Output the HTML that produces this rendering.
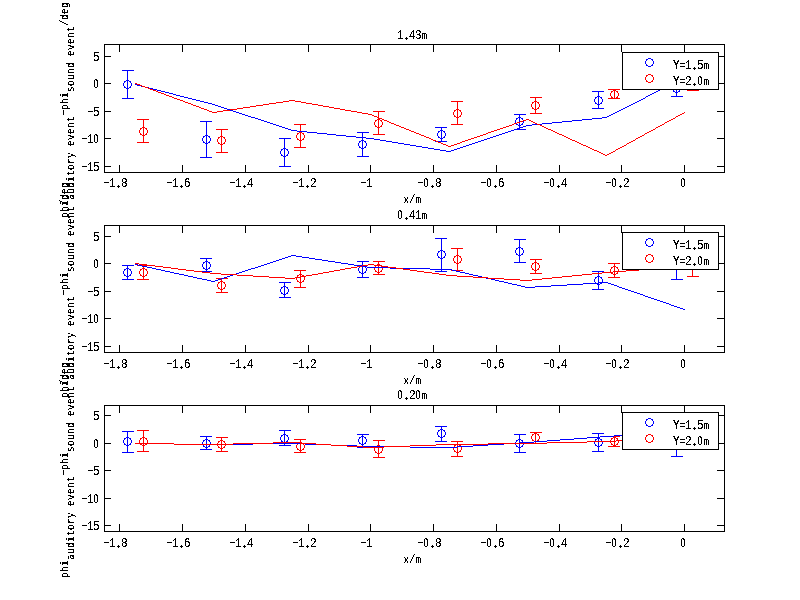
<!DOCTYPE html>
<html><head><meta charset="utf-8"><title>phi auditory event - phi sound event</title>
<style>html,body{margin:0;padding:0;background:#fff;width:800px;height:600px;overflow:hidden}svg{display:block}text{white-space:pre}</style>
</head><body>
<svg width="800" height="600" viewBox="0 0 800 600"><defs><path id="o" d="M-1,-4h3v1h-3zM-3,-3h2v1h-2zM2,-3h2v1h-2zM-3,-2h1v1h-1zM3,-2h1v1h-1zM-4,-1h1v3h-1zM4,-1h1v3h-1zM-3,2h1v1h-1zM3,2h1v1h-1zM-3,3h2v1h-2zM2,3h2v1h-2zM-1,4h3v1h-3z"/><clipPath id="pl"><path d="M-1.5,-0.5h1v-1h1v1h1v1h-1v1h-1v-1h-1z"/></clipPath><filter id="bw" filterUnits="userSpaceOnUse" x="0" y="0" width="800" height="600"><feComponentTransfer><feFuncA type="discrete" tableValues="0 0 1 1 1"/></feComponentTransfer></filter><filter id="bw2" filterUnits="userSpaceOnUse" x="0" y="0" width="800" height="600"><feComponentTransfer><feFuncA type="discrete" tableValues="0 0 1 1 1"/></feComponentTransfer></filter></defs><rect width="800" height="600" fill="#fff"/>
<g shape-rendering="crispEdges">
<rect x="127" y="70" width="1" height="29" fill="#0000ff"/>
<rect x="122" y="70" width="12" height="1" fill="#0000ff"/>
<rect x="122" y="98" width="12" height="1" fill="#0000ff"/>
<use href="#o" x="127" y="84" fill="#0000ff"/>
<rect x="206" y="121" width="1" height="37" fill="#0000ff"/>
<rect x="200" y="121" width="12" height="1" fill="#0000ff"/>
<rect x="200" y="157" width="12" height="1" fill="#0000ff"/>
<use href="#o" x="206" y="139" fill="#0000ff"/>
<rect x="284" y="138" width="1" height="29" fill="#0000ff"/>
<rect x="279" y="138" width="12" height="1" fill="#0000ff"/>
<rect x="279" y="166" width="12" height="1" fill="#0000ff"/>
<use href="#o" x="284" y="152" fill="#0000ff"/>
<rect x="362" y="132" width="1" height="25" fill="#0000ff"/>
<rect x="357" y="132" width="12" height="1" fill="#0000ff"/>
<rect x="357" y="156" width="12" height="1" fill="#0000ff"/>
<use href="#o" x="362" y="144" fill="#0000ff"/>
<rect x="441" y="127" width="1" height="15" fill="#0000ff"/>
<rect x="435" y="127" width="12" height="1" fill="#0000ff"/>
<rect x="435" y="141" width="12" height="1" fill="#0000ff"/>
<use href="#o" x="441" y="134" fill="#0000ff"/>
<rect x="519" y="114" width="1" height="16" fill="#0000ff"/>
<rect x="514" y="114" width="12" height="1" fill="#0000ff"/>
<rect x="514" y="129" width="12" height="1" fill="#0000ff"/>
<use href="#o" x="519" y="121" fill="#0000ff"/>
<rect x="598" y="91" width="1" height="18" fill="#0000ff"/>
<rect x="592" y="91" width="12" height="1" fill="#0000ff"/>
<rect x="592" y="108" width="12" height="1" fill="#0000ff"/>
<use href="#o" x="598" y="100" fill="#0000ff"/>
<rect x="676" y="80" width="1" height="17" fill="#0000ff"/>
<rect x="671" y="80" width="12" height="1" fill="#0000ff"/>
<rect x="671" y="96" width="12" height="1" fill="#0000ff"/>
<use href="#o" x="676" y="88" fill="#0000ff"/>
<rect x="143" y="119" width="1" height="24" fill="#ff0000"/>
<rect x="137" y="119" width="12" height="1" fill="#ff0000"/>
<rect x="137" y="142" width="12" height="1" fill="#ff0000"/>
<use href="#o" x="143" y="131" fill="#ff0000"/>
<rect x="221" y="129" width="1" height="24" fill="#ff0000"/>
<rect x="216" y="129" width="12" height="1" fill="#ff0000"/>
<rect x="216" y="152" width="12" height="1" fill="#ff0000"/>
<use href="#o" x="221" y="140" fill="#ff0000"/>
<rect x="300" y="124" width="1" height="24" fill="#ff0000"/>
<rect x="294" y="124" width="12" height="1" fill="#ff0000"/>
<rect x="294" y="147" width="12" height="1" fill="#ff0000"/>
<use href="#o" x="300" y="136" fill="#ff0000"/>
<rect x="378" y="111" width="1" height="24" fill="#ff0000"/>
<rect x="373" y="111" width="12" height="1" fill="#ff0000"/>
<rect x="373" y="134" width="12" height="1" fill="#ff0000"/>
<use href="#o" x="378" y="123" fill="#ff0000"/>
<rect x="457" y="101" width="1" height="24" fill="#ff0000"/>
<rect x="451" y="101" width="12" height="1" fill="#ff0000"/>
<rect x="451" y="124" width="12" height="1" fill="#ff0000"/>
<use href="#o" x="457" y="113" fill="#ff0000"/>
<rect x="535" y="97" width="1" height="17" fill="#ff0000"/>
<rect x="530" y="97" width="12" height="1" fill="#ff0000"/>
<rect x="530" y="113" width="12" height="1" fill="#ff0000"/>
<use href="#o" x="535" y="105" fill="#ff0000"/>
<rect x="614" y="89" width="1" height="10" fill="#ff0000"/>
<rect x="608" y="89" width="12" height="1" fill="#ff0000"/>
<rect x="608" y="98" width="12" height="1" fill="#ff0000"/>
<use href="#o" x="614" y="94" fill="#ff0000"/>
<rect x="692" y="78" width="1" height="13" fill="#ff0000"/>
<rect x="687" y="78" width="12" height="1" fill="#ff0000"/>
<rect x="687" y="90" width="12" height="1" fill="#ff0000"/>
<use href="#o" x="692" y="84" fill="#ff0000"/>
<path fill="#0000ff" d="M135,84h2v1h-2zM670,84h2v1h-2zM137,85h4v1h-4zM668,85h2v1h-2zM141,86h4v1h-4zM666,86h2v1h-2zM145,87h4v1h-4zM664,87h2v1h-2zM149,88h4v1h-4zM662,88h2v1h-2zM153,89h4v1h-4zM660,89h2v1h-2zM157,90h4v1h-4zM658,90h2v1h-2zM161,91h4v1h-4zM656,91h2v1h-2zM165,92h4v1h-4zM654,92h2v1h-2zM169,93h4v1h-4zM652,93h2v1h-2zM173,94h3v1h-3zM650,94h2v1h-2zM176,95h4v1h-4zM648,95h2v1h-2zM180,96h4v1h-4zM646,96h2v1h-2zM184,97h4v1h-4zM645,97h1v1h-1zM188,98h4v1h-4zM643,98h2v1h-2zM192,99h4v1h-4zM641,99h2v1h-2zM196,100h4v1h-4zM639,100h2v1h-2zM200,101h4v1h-4zM637,101h2v1h-2zM204,102h4v1h-4zM635,102h2v1h-2zM208,103h4v1h-4zM633,103h2v1h-2zM212,104h3v1h-3zM631,104h2v1h-2zM215,105h3v1h-3zM629,105h2v1h-2zM218,106h3v1h-3zM627,106h2v1h-2zM221,107h3v1h-3zM625,107h2v1h-2zM224,108h3v1h-3zM623,108h2v1h-2zM227,109h3v1h-3zM621,109h2v1h-2zM230,110h3v1h-3zM619,110h2v1h-2zM233,111h3v1h-3zM617,111h2v1h-2zM236,112h3v1h-3zM615,112h2v1h-2zM239,113h3v1h-3zM613,113h2v1h-2zM242,114h3v1h-3zM611,114h2v1h-2zM245,115h3v1h-3zM609,115h2v1h-2zM248,116h3v1h-3zM607,116h2v1h-2zM251,117h4v1h-4zM602,117h5v1h-5zM255,118h3v1h-3zM592,118h10v1h-10zM258,119h3v1h-3zM582,119h10v1h-10zM261,120h3v1h-3zM572,120h10v1h-10zM264,121h3v1h-3zM562,121h10v1h-10zM267,122h3v1h-3zM552,122h10v1h-10zM270,123h3v1h-3zM542,123h10v1h-10zM273,124h3v1h-3zM532,124h10v1h-10zM276,125h3v1h-3zM526,125h6v1h-6zM279,126h3v1h-3zM523,126h3v1h-3zM282,127h3v1h-3zM520,127h3v1h-3zM285,128h3v1h-3zM517,128h3v1h-3zM288,129h3v1h-3zM514,129h3v1h-3zM291,130h6v1h-6zM511,130h3v1h-3zM297,131h10v1h-10zM508,131h3v1h-3zM307,132h10v1h-10zM505,132h3v1h-3zM317,133h10v1h-10zM502,133h3v1h-3zM327,134h9v1h-9zM499,134h3v1h-3zM336,135h10v1h-10zM496,135h3v1h-3zM346,136h10v1h-10zM493,136h3v1h-3zM356,137h10v1h-10zM490,137h3v1h-3zM366,138h8v1h-8zM487,138h3v1h-3zM374,139h6v1h-6zM484,139h3v1h-3zM380,140h6v1h-6zM481,140h3v1h-3zM386,141h6v1h-6zM478,141h3v1h-3zM392,142h6v1h-6zM475,142h3v1h-3zM398,143h6v1h-6zM472,143h3v1h-3zM404,144h6v1h-6zM469,144h3v1h-3zM410,145h6v1h-6zM466,145h3v1h-3zM416,146h6v1h-6zM463,146h3v1h-3zM422,147h6v1h-6zM460,147h3v1h-3zM428,148h6v1h-6zM457,148h3v1h-3zM434,149h6v1h-6zM454,149h3v1h-3zM440,150h6v1h-6zM451,150h3v1h-3zM446,151h5v1h-5zM672,83h2v1h-2zM674,82h2v1h-2zM676,81h2v1h-2zM678,80h2v1h-2zM680,79h2v1h-2zM682,78h2v1h-2zM684,77h1v1h-1z"/>
<path fill="#ff0000" d="M135,83h2v1h-2zM137,84h3v1h-3zM140,85h2v1h-2zM142,86h3v1h-3zM145,87h3v1h-3zM148,88h2v1h-2zM150,89h3v1h-3zM153,90h3v1h-3zM156,91h2v1h-2zM158,92h3v1h-3zM161,93h3v1h-3zM164,94h2v1h-2zM166,95h3v1h-3zM169,96h3v1h-3zM172,97h2v1h-2zM174,98h3v1h-3zM177,99h3v1h-3zM180,100h3v1h-3zM289,100h6v1h-6zM183,101h2v1h-2zM283,101h6v1h-6zM295,101h6v1h-6zM185,102h3v1h-3zM276,102h7v1h-7zM301,102h5v1h-5zM188,103h3v1h-3zM269,103h7v1h-7zM306,103h6v1h-6zM191,104h2v1h-2zM263,104h6v1h-6zM312,104h6v1h-6zM193,105h3v1h-3zM256,105h7v1h-7zM318,105h5v1h-5zM196,106h3v1h-3zM250,106h6v1h-6zM323,106h6v1h-6zM199,107h2v1h-2zM243,107h7v1h-7zM329,107h5v1h-5zM201,108h3v1h-3zM237,108h6v1h-6zM334,108h6v1h-6zM204,109h3v1h-3zM230,109h7v1h-7zM340,109h5v1h-5zM207,110h2v1h-2zM223,110h7v1h-7zM345,110h6v1h-6zM209,111h3v1h-3zM217,111h6v1h-6zM351,111h6v1h-6zM212,112h5v1h-5zM357,112h5v1h-5zM684,112h1v1h-1zM362,113h6v1h-6zM682,113h2v1h-2zM368,114h4v1h-4zM680,114h2v1h-2zM372,115h2v1h-2zM678,115h2v1h-2zM374,116h3v1h-3zM676,116h2v1h-2zM377,117h2v1h-2zM675,117h1v1h-1zM379,118h3v1h-3zM673,118h2v1h-2zM382,119h2v1h-2zM526,119h3v1h-3zM671,119h2v1h-2zM384,120h3v1h-3zM523,120h3v1h-3zM529,120h2v1h-2zM669,120h2v1h-2zM387,121h2v1h-2zM520,121h3v1h-3zM531,121h2v1h-2zM667,121h2v1h-2zM389,122h2v1h-2zM517,122h3v1h-3zM533,122h2v1h-2zM665,122h2v1h-2zM391,123h3v1h-3zM514,123h3v1h-3zM535,123h2v1h-2zM664,123h1v1h-1zM394,124h2v1h-2zM512,124h2v1h-2zM537,124h3v1h-3zM662,124h2v1h-2zM396,125h3v1h-3zM509,125h3v1h-3zM540,125h2v1h-2zM660,125h2v1h-2zM399,126h2v1h-2zM506,126h3v1h-3zM542,126h2v1h-2zM658,126h2v1h-2zM401,127h3v1h-3zM503,127h3v1h-3zM544,127h2v1h-2zM656,127h2v1h-2zM404,128h2v1h-2zM500,128h3v1h-3zM546,128h2v1h-2zM655,128h1v1h-1zM406,129h3v1h-3zM497,129h3v1h-3zM548,129h3v1h-3zM653,129h2v1h-2zM409,130h2v1h-2zM494,130h3v1h-3zM551,130h2v1h-2zM651,130h2v1h-2zM411,131h3v1h-3zM491,131h3v1h-3zM553,131h2v1h-2zM649,131h2v1h-2zM414,132h2v1h-2zM488,132h3v1h-3zM555,132h2v1h-2zM647,132h2v1h-2zM416,133h3v1h-3zM486,133h2v1h-2zM557,133h2v1h-2zM645,133h2v1h-2zM419,134h2v1h-2zM483,134h3v1h-3zM559,134h3v1h-3zM644,134h1v1h-1zM421,135h3v1h-3zM480,135h3v1h-3zM562,135h2v1h-2zM642,135h2v1h-2zM424,136h2v1h-2zM477,136h3v1h-3zM564,136h2v1h-2zM640,136h2v1h-2zM426,137h3v1h-3zM474,137h3v1h-3zM566,137h2v1h-2zM638,137h2v1h-2zM429,138h2v1h-2zM471,138h3v1h-3zM568,138h2v1h-2zM636,138h2v1h-2zM431,139h2v1h-2zM468,139h3v1h-3zM570,139h2v1h-2zM635,139h1v1h-1zM433,140h3v1h-3zM465,140h3v1h-3zM572,140h3v1h-3zM633,140h2v1h-2zM436,141h2v1h-2zM462,141h3v1h-3zM575,141h2v1h-2zM631,141h2v1h-2zM438,142h3v1h-3zM460,142h2v1h-2zM577,142h2v1h-2zM629,142h2v1h-2zM441,143h2v1h-2zM457,143h3v1h-3zM579,143h2v1h-2zM627,143h2v1h-2zM443,144h3v1h-3zM454,144h3v1h-3zM581,144h2v1h-2zM626,144h1v1h-1zM446,145h2v1h-2zM451,145h3v1h-3zM583,145h3v1h-3zM624,145h2v1h-2zM448,146h3v1h-3zM586,146h2v1h-2zM622,146h2v1h-2zM588,147h2v1h-2zM620,147h2v1h-2zM590,148h2v1h-2zM618,148h2v1h-2zM592,149h2v1h-2zM616,149h2v1h-2zM594,150h3v1h-3zM615,150h1v1h-1zM597,151h2v1h-2zM613,151h2v1h-2zM599,152h2v1h-2zM611,152h2v1h-2zM601,153h2v1h-2zM609,153h2v1h-2zM603,154h2v1h-2zM607,154h2v1h-2zM605,155h2v1h-2z"/>
<rect x="104.5" y="44.5" width="620" height="128" fill="none" stroke="#000"/>
<rect x="119" y="45" width="1" height="7" fill="#000"/>
<rect x="119" y="165" width="1" height="7" fill="#000"/>
<rect x="182" y="45" width="1" height="7" fill="#000"/>
<rect x="182" y="165" width="1" height="7" fill="#000"/>
<rect x="245" y="45" width="1" height="7" fill="#000"/>
<rect x="245" y="165" width="1" height="7" fill="#000"/>
<rect x="308" y="45" width="1" height="7" fill="#000"/>
<rect x="308" y="165" width="1" height="7" fill="#000"/>
<rect x="370" y="45" width="1" height="7" fill="#000"/>
<rect x="370" y="165" width="1" height="7" fill="#000"/>
<rect x="433" y="45" width="1" height="7" fill="#000"/>
<rect x="433" y="165" width="1" height="7" fill="#000"/>
<rect x="496" y="45" width="1" height="7" fill="#000"/>
<rect x="496" y="165" width="1" height="7" fill="#000"/>
<rect x="559" y="45" width="1" height="7" fill="#000"/>
<rect x="559" y="165" width="1" height="7" fill="#000"/>
<rect x="621" y="45" width="1" height="7" fill="#000"/>
<rect x="621" y="165" width="1" height="7" fill="#000"/>
<rect x="684" y="45" width="1" height="7" fill="#000"/>
<rect x="684" y="165" width="1" height="7" fill="#000"/>
<rect x="105" y="56" width="6" height="1" fill="#000"/>
<rect x="717" y="56" width="7" height="1" fill="#000"/>
<rect x="105" y="83" width="6" height="1" fill="#000"/>
<rect x="717" y="83" width="7" height="1" fill="#000"/>
<rect x="105" y="111" width="6" height="1" fill="#000"/>
<rect x="717" y="111" width="7" height="1" fill="#000"/>
<rect x="105" y="138" width="6" height="1" fill="#000"/>
<rect x="717" y="138" width="7" height="1" fill="#000"/>
<rect x="105" y="166" width="6" height="1" fill="#000"/>
<rect x="717" y="166" width="7" height="1" fill="#000"/>
<rect x="622.5" y="52.5" width="96" height="37" fill="#fff" stroke="#000"/>
<use href="#o" x="649" y="62" fill="#0000ff"/>
<use href="#o" x="649" y="78" fill="#ff0000"/>
<rect x="127" y="265" width="1" height="15" fill="#0000ff"/>
<rect x="122" y="265" width="12" height="1" fill="#0000ff"/>
<rect x="122" y="279" width="12" height="1" fill="#0000ff"/>
<use href="#o" x="127" y="272" fill="#0000ff"/>
<rect x="206" y="258" width="1" height="14" fill="#0000ff"/>
<rect x="200" y="258" width="12" height="1" fill="#0000ff"/>
<rect x="200" y="271" width="12" height="1" fill="#0000ff"/>
<use href="#o" x="206" y="265" fill="#0000ff"/>
<rect x="284" y="282" width="1" height="16" fill="#0000ff"/>
<rect x="279" y="282" width="12" height="1" fill="#0000ff"/>
<rect x="279" y="297" width="12" height="1" fill="#0000ff"/>
<use href="#o" x="284" y="290" fill="#0000ff"/>
<rect x="362" y="261" width="1" height="17" fill="#0000ff"/>
<rect x="357" y="261" width="12" height="1" fill="#0000ff"/>
<rect x="357" y="277" width="12" height="1" fill="#0000ff"/>
<use href="#o" x="362" y="269" fill="#0000ff"/>
<rect x="441" y="238" width="1" height="34" fill="#0000ff"/>
<rect x="435" y="238" width="12" height="1" fill="#0000ff"/>
<rect x="435" y="271" width="12" height="1" fill="#0000ff"/>
<use href="#o" x="441" y="254" fill="#0000ff"/>
<rect x="519" y="239" width="1" height="24" fill="#0000ff"/>
<rect x="514" y="239" width="12" height="1" fill="#0000ff"/>
<rect x="514" y="262" width="12" height="1" fill="#0000ff"/>
<use href="#o" x="519" y="251" fill="#0000ff"/>
<rect x="598" y="271" width="1" height="19" fill="#0000ff"/>
<rect x="592" y="271" width="12" height="1" fill="#0000ff"/>
<rect x="592" y="289" width="12" height="1" fill="#0000ff"/>
<use href="#o" x="598" y="280" fill="#0000ff"/>
<rect x="676" y="251" width="1" height="29" fill="#0000ff"/>
<rect x="671" y="251" width="12" height="1" fill="#0000ff"/>
<rect x="671" y="279" width="12" height="1" fill="#0000ff"/>
<use href="#o" x="676" y="265" fill="#0000ff"/>
<rect x="143" y="265" width="1" height="15" fill="#ff0000"/>
<rect x="137" y="265" width="12" height="1" fill="#ff0000"/>
<rect x="137" y="279" width="12" height="1" fill="#ff0000"/>
<use href="#o" x="143" y="272" fill="#ff0000"/>
<rect x="221" y="278" width="1" height="15" fill="#ff0000"/>
<rect x="216" y="278" width="12" height="1" fill="#ff0000"/>
<rect x="216" y="292" width="12" height="1" fill="#ff0000"/>
<use href="#o" x="221" y="285" fill="#ff0000"/>
<rect x="300" y="270" width="1" height="18" fill="#ff0000"/>
<rect x="294" y="270" width="12" height="1" fill="#ff0000"/>
<rect x="294" y="287" width="12" height="1" fill="#ff0000"/>
<use href="#o" x="300" y="278" fill="#ff0000"/>
<rect x="378" y="261" width="1" height="14" fill="#ff0000"/>
<rect x="373" y="261" width="12" height="1" fill="#ff0000"/>
<rect x="373" y="274" width="12" height="1" fill="#ff0000"/>
<use href="#o" x="378" y="268" fill="#ff0000"/>
<rect x="457" y="248" width="1" height="23" fill="#ff0000"/>
<rect x="451" y="248" width="12" height="1" fill="#ff0000"/>
<rect x="451" y="270" width="12" height="1" fill="#ff0000"/>
<use href="#o" x="457" y="259" fill="#ff0000"/>
<rect x="535" y="259" width="1" height="15" fill="#ff0000"/>
<rect x="530" y="259" width="12" height="1" fill="#ff0000"/>
<rect x="530" y="273" width="12" height="1" fill="#ff0000"/>
<use href="#o" x="535" y="266" fill="#ff0000"/>
<rect x="614" y="263" width="1" height="15" fill="#ff0000"/>
<rect x="608" y="263" width="12" height="1" fill="#ff0000"/>
<rect x="608" y="277" width="12" height="1" fill="#ff0000"/>
<use href="#o" x="614" y="270" fill="#ff0000"/>
<rect x="692" y="254" width="1" height="23" fill="#ff0000"/>
<rect x="687" y="254" width="12" height="1" fill="#ff0000"/>
<rect x="687" y="276" width="12" height="1" fill="#ff0000"/>
<use href="#o" x="692" y="265" fill="#ff0000"/>
<path fill="#0000ff" d="M135,264h3v1h-3zM264,264h3v1h-3zM348,264h6v1h-6zM138,265h4v1h-4zM261,265h3v1h-3zM354,265h7v1h-7zM142,266h5v1h-5zM258,266h3v1h-3zM361,266h6v1h-6zM147,267h5v1h-5zM255,267h3v1h-3zM367,267h23v1h-23zM152,268h4v1h-4zM251,268h4v1h-4zM390,268h40v1h-40zM156,269h5v1h-5zM248,269h3v1h-3zM430,269h22v1h-22zM161,270h4v1h-4zM245,270h3v1h-3zM452,270h4v1h-4zM165,271h5v1h-5zM242,271h3v1h-3zM456,271h4v1h-4zM170,272h4v1h-4zM239,272h3v1h-3zM460,272h5v1h-5zM174,273h5v1h-5zM236,273h3v1h-3zM465,273h4v1h-4zM179,274h5v1h-5zM233,274h3v1h-3zM469,274h4v1h-4zM184,275h4v1h-4zM230,275h3v1h-3zM473,275h5v1h-5zM188,276h5v1h-5zM227,276h3v1h-3zM478,276h4v1h-4zM193,277h4v1h-4zM224,277h3v1h-3zM482,277h4v1h-4zM197,278h5v1h-5zM221,278h3v1h-3zM486,278h5v1h-5zM202,279h5v1h-5zM218,279h3v1h-3zM491,279h4v1h-4zM207,280h4v1h-4zM215,280h3v1h-3zM495,280h4v1h-4zM211,281h4v1h-4zM499,281h5v1h-5zM267,263h3v1h-3zM341,263h7v1h-7zM270,262h3v1h-3zM335,262h6v1h-6zM273,261h3v1h-3zM328,261h7v1h-7zM276,260h3v1h-3zM322,260h6v1h-6zM279,259h3v1h-3zM315,259h7v1h-7zM282,258h3v1h-3zM309,258h6v1h-6zM285,257h3v1h-3zM302,257h7v1h-7zM288,256h3v1h-3zM296,256h6v1h-6zM291,255h5v1h-5zM504,282h4v1h-4zM599,282h9v1h-9zM508,283h4v1h-4zM583,283h16v1h-16zM608,283h3v1h-3zM512,284h5v1h-5zM567,284h16v1h-16zM611,284h3v1h-3zM517,285h4v1h-4zM551,285h16v1h-16zM614,285h3v1h-3zM521,286h4v1h-4zM535,286h16v1h-16zM617,286h2v1h-2zM525,287h10v1h-10zM619,287h3v1h-3zM622,288h3v1h-3zM625,289h3v1h-3zM628,290h3v1h-3zM631,291h3v1h-3zM634,292h3v1h-3zM637,293h3v1h-3zM640,294h3v1h-3zM643,295h2v1h-2zM645,296h3v1h-3zM648,297h3v1h-3zM651,298h3v1h-3zM654,299h3v1h-3zM657,300h3v1h-3zM660,301h3v1h-3zM663,302h3v1h-3zM666,303h3v1h-3zM669,304h2v1h-2zM671,305h3v1h-3zM674,306h3v1h-3zM677,307h3v1h-3zM680,308h3v1h-3zM683,309h2v1h-2z"/>
<path fill="#ff0000" d="M135,263h4v1h-4zM139,264h8v1h-8zM368,264h6v1h-6zM147,265h8v1h-8zM362,265h6v1h-6zM374,265h7v1h-7zM155,266h8v1h-8zM357,266h5v1h-5zM381,266h7v1h-7zM678,266h7v1h-7zM163,267h8v1h-8zM351,267h6v1h-6zM388,267h8v1h-8zM665,267h13v1h-13zM171,268h7v1h-7zM345,268h6v1h-6zM396,268h7v1h-7zM652,268h13v1h-13zM178,269h8v1h-8zM340,269h5v1h-5zM403,269h7v1h-7zM639,269h13v1h-13zM186,270h8v1h-8zM334,270h6v1h-6zM410,270h7v1h-7zM626,270h13v1h-13zM194,271h8v1h-8zM329,271h5v1h-5zM417,271h7v1h-7zM613,271h13v1h-13zM202,272h8v1h-8zM323,272h6v1h-6zM424,272h8v1h-8zM602,272h11v1h-11zM210,273h11v1h-11zM318,273h5v1h-5zM432,273h7v1h-7zM592,273h10v1h-10zM221,274h16v1h-16zM312,274h6v1h-6zM439,274h7v1h-7zM582,274h10v1h-10zM237,275h16v1h-16zM306,275h6v1h-6zM446,275h11v1h-11zM572,275h10v1h-10zM253,276h16v1h-16zM301,276h5v1h-5zM457,276h16v1h-16zM562,276h10v1h-10zM269,277h16v1h-16zM295,277h6v1h-6zM473,277h15v1h-15zM552,277h10v1h-10zM285,278h10v1h-10zM488,278h16v1h-16zM542,278h10v1h-10zM504,279h16v1h-16zM532,279h10v1h-10zM520,280h12v1h-12z"/>
<rect x="104.5" y="225.5" width="620" height="127" fill="none" stroke="#000"/>
<rect x="119" y="226" width="1" height="7" fill="#000"/>
<rect x="119" y="345" width="1" height="7" fill="#000"/>
<rect x="182" y="226" width="1" height="7" fill="#000"/>
<rect x="182" y="345" width="1" height="7" fill="#000"/>
<rect x="245" y="226" width="1" height="7" fill="#000"/>
<rect x="245" y="345" width="1" height="7" fill="#000"/>
<rect x="308" y="226" width="1" height="7" fill="#000"/>
<rect x="308" y="345" width="1" height="7" fill="#000"/>
<rect x="370" y="226" width="1" height="7" fill="#000"/>
<rect x="370" y="345" width="1" height="7" fill="#000"/>
<rect x="433" y="226" width="1" height="7" fill="#000"/>
<rect x="433" y="345" width="1" height="7" fill="#000"/>
<rect x="496" y="226" width="1" height="7" fill="#000"/>
<rect x="496" y="345" width="1" height="7" fill="#000"/>
<rect x="559" y="226" width="1" height="7" fill="#000"/>
<rect x="559" y="345" width="1" height="7" fill="#000"/>
<rect x="621" y="226" width="1" height="7" fill="#000"/>
<rect x="621" y="345" width="1" height="7" fill="#000"/>
<rect x="684" y="226" width="1" height="7" fill="#000"/>
<rect x="684" y="345" width="1" height="7" fill="#000"/>
<rect x="105" y="236" width="6" height="1" fill="#000"/>
<rect x="717" y="236" width="7" height="1" fill="#000"/>
<rect x="105" y="263" width="6" height="1" fill="#000"/>
<rect x="717" y="263" width="7" height="1" fill="#000"/>
<rect x="105" y="291" width="6" height="1" fill="#000"/>
<rect x="717" y="291" width="7" height="1" fill="#000"/>
<rect x="105" y="318" width="6" height="1" fill="#000"/>
<rect x="717" y="318" width="7" height="1" fill="#000"/>
<rect x="105" y="346" width="6" height="1" fill="#000"/>
<rect x="717" y="346" width="7" height="1" fill="#000"/>
<rect x="622.5" y="232.5" width="96" height="37" fill="#fff" stroke="#000"/>
<use href="#o" x="649" y="242" fill="#0000ff"/>
<use href="#o" x="649" y="258" fill="#ff0000"/>
<rect x="127" y="431" width="1" height="22" fill="#0000ff"/>
<rect x="122" y="431" width="12" height="1" fill="#0000ff"/>
<rect x="122" y="452" width="12" height="1" fill="#0000ff"/>
<use href="#o" x="127" y="441" fill="#0000ff"/>
<rect x="206" y="436" width="1" height="14" fill="#0000ff"/>
<rect x="200" y="436" width="12" height="1" fill="#0000ff"/>
<rect x="200" y="449" width="12" height="1" fill="#0000ff"/>
<use href="#o" x="206" y="443" fill="#0000ff"/>
<rect x="284" y="430" width="1" height="16" fill="#0000ff"/>
<rect x="279" y="430" width="12" height="1" fill="#0000ff"/>
<rect x="279" y="445" width="12" height="1" fill="#0000ff"/>
<use href="#o" x="284" y="438" fill="#0000ff"/>
<rect x="362" y="434" width="1" height="14" fill="#0000ff"/>
<rect x="357" y="434" width="12" height="1" fill="#0000ff"/>
<rect x="357" y="447" width="12" height="1" fill="#0000ff"/>
<use href="#o" x="362" y="440" fill="#0000ff"/>
<rect x="441" y="426" width="1" height="16" fill="#0000ff"/>
<rect x="435" y="426" width="12" height="1" fill="#0000ff"/>
<rect x="435" y="441" width="12" height="1" fill="#0000ff"/>
<use href="#o" x="441" y="433" fill="#0000ff"/>
<rect x="519" y="434" width="1" height="19" fill="#0000ff"/>
<rect x="514" y="434" width="12" height="1" fill="#0000ff"/>
<rect x="514" y="452" width="12" height="1" fill="#0000ff"/>
<use href="#o" x="519" y="443" fill="#0000ff"/>
<rect x="598" y="433" width="1" height="19" fill="#0000ff"/>
<rect x="592" y="433" width="12" height="1" fill="#0000ff"/>
<rect x="592" y="451" width="12" height="1" fill="#0000ff"/>
<use href="#o" x="598" y="442" fill="#0000ff"/>
<rect x="676" y="432" width="1" height="25" fill="#0000ff"/>
<rect x="671" y="432" width="12" height="1" fill="#0000ff"/>
<rect x="671" y="456" width="12" height="1" fill="#0000ff"/>
<use href="#o" x="676" y="444" fill="#0000ff"/>
<rect x="143" y="430" width="1" height="22" fill="#ff0000"/>
<rect x="137" y="430" width="12" height="1" fill="#ff0000"/>
<rect x="137" y="451" width="12" height="1" fill="#ff0000"/>
<use href="#o" x="143" y="441" fill="#ff0000"/>
<rect x="221" y="437" width="1" height="15" fill="#ff0000"/>
<rect x="216" y="437" width="12" height="1" fill="#ff0000"/>
<rect x="216" y="451" width="12" height="1" fill="#ff0000"/>
<use href="#o" x="221" y="444" fill="#ff0000"/>
<rect x="300" y="439" width="1" height="14" fill="#ff0000"/>
<rect x="294" y="439" width="12" height="1" fill="#ff0000"/>
<rect x="294" y="452" width="12" height="1" fill="#ff0000"/>
<use href="#o" x="300" y="446" fill="#ff0000"/>
<rect x="378" y="440" width="1" height="18" fill="#ff0000"/>
<rect x="373" y="440" width="12" height="1" fill="#ff0000"/>
<rect x="373" y="457" width="12" height="1" fill="#ff0000"/>
<use href="#o" x="378" y="449" fill="#ff0000"/>
<rect x="457" y="441" width="1" height="16" fill="#ff0000"/>
<rect x="451" y="441" width="12" height="1" fill="#ff0000"/>
<rect x="451" y="456" width="12" height="1" fill="#ff0000"/>
<use href="#o" x="457" y="448" fill="#ff0000"/>
<rect x="535" y="432" width="1" height="12" fill="#ff0000"/>
<rect x="530" y="432" width="12" height="1" fill="#ff0000"/>
<rect x="530" y="443" width="12" height="1" fill="#ff0000"/>
<use href="#o" x="535" y="437" fill="#ff0000"/>
<rect x="614" y="436" width="1" height="11" fill="#ff0000"/>
<rect x="608" y="436" width="12" height="1" fill="#ff0000"/>
<rect x="608" y="446" width="12" height="1" fill="#ff0000"/>
<use href="#o" x="614" y="441" fill="#ff0000"/>
<rect x="692" y="430" width="1" height="19" fill="#ff0000"/>
<rect x="687" y="430" width="12" height="1" fill="#ff0000"/>
<rect x="687" y="448" width="12" height="1" fill="#ff0000"/>
<use href="#o" x="692" y="439" fill="#ff0000"/>
<path fill="#0000ff" d="M135,443h39v1h-39zM253,443h52v1h-52zM504,443h16v1h-16zM174,444h79v1h-79zM305,444h26v1h-26zM488,444h16v1h-16zM331,445h26v1h-26zM473,445h15v1h-15zM357,446h53v1h-53zM457,446h16v1h-16zM410,447h47v1h-47zM520,442h14v1h-14zM534,441h13v1h-13zM547,440h13v1h-13zM560,439h14v1h-14zM574,438h13v1h-13zM587,437h13v1h-13zM600,436h14v1h-14zM614,435h16v1h-16zM630,434h15v1h-15zM645,433h16v1h-16zM661,432h16v1h-16zM677,431h8v1h-8z"/>
<path fill="#ff0000" d="M135,443h39v1h-39zM233,443h40v1h-40zM300,443h16v1h-16zM488,443h59v1h-59zM174,444h59v1h-59zM316,444h15v1h-15zM436,444h52v1h-52zM273,442h27v1h-27zM547,442h40v1h-40zM331,445h16v1h-16zM410,445h26v1h-26zM347,446h16v1h-16zM384,446h26v1h-26zM363,447h21v1h-21zM587,441h29v1h-29zM616,440h20v1h-20zM636,439h19v1h-19zM655,438h20v1h-20zM675,437h10v1h-10z"/>
<rect x="104.5" y="405.5" width="620" height="126" fill="none" stroke="#000"/>
<rect x="119" y="406" width="1" height="7" fill="#000"/>
<rect x="119" y="524" width="1" height="7" fill="#000"/>
<rect x="182" y="406" width="1" height="7" fill="#000"/>
<rect x="182" y="524" width="1" height="7" fill="#000"/>
<rect x="245" y="406" width="1" height="7" fill="#000"/>
<rect x="245" y="524" width="1" height="7" fill="#000"/>
<rect x="308" y="406" width="1" height="7" fill="#000"/>
<rect x="308" y="524" width="1" height="7" fill="#000"/>
<rect x="370" y="406" width="1" height="7" fill="#000"/>
<rect x="370" y="524" width="1" height="7" fill="#000"/>
<rect x="433" y="406" width="1" height="7" fill="#000"/>
<rect x="433" y="524" width="1" height="7" fill="#000"/>
<rect x="496" y="406" width="1" height="7" fill="#000"/>
<rect x="496" y="524" width="1" height="7" fill="#000"/>
<rect x="559" y="406" width="1" height="7" fill="#000"/>
<rect x="559" y="524" width="1" height="7" fill="#000"/>
<rect x="621" y="406" width="1" height="7" fill="#000"/>
<rect x="621" y="524" width="1" height="7" fill="#000"/>
<rect x="684" y="406" width="1" height="7" fill="#000"/>
<rect x="684" y="524" width="1" height="7" fill="#000"/>
<rect x="105" y="415" width="6" height="1" fill="#000"/>
<rect x="717" y="415" width="7" height="1" fill="#000"/>
<rect x="105" y="443" width="6" height="1" fill="#000"/>
<rect x="717" y="443" width="7" height="1" fill="#000"/>
<rect x="105" y="470" width="6" height="1" fill="#000"/>
<rect x="717" y="470" width="7" height="1" fill="#000"/>
<rect x="105" y="498" width="6" height="1" fill="#000"/>
<rect x="717" y="498" width="7" height="1" fill="#000"/>
<rect x="105" y="525" width="6" height="1" fill="#000"/>
<rect x="717" y="525" width="7" height="1" fill="#000"/>
<rect x="622.5" y="412.5" width="96" height="37" fill="#fff" stroke="#000"/>
<use href="#o" x="649" y="422" fill="#0000ff"/>
<use href="#o" x="649" y="438" fill="#ff0000"/>
</g>
<g filter="url(#bw)" font-family="'Liberation Mono', 'DejaVu Sans Mono', monospace" font-size="13.5" fill="#000">
<g transform="translate(694.5,68.5)"><text x="-5.992" y="1.460" font-size="20" clip-path="url(#pl)">.</text></g><text transform="scale(0.82,1)" y="69"><tspan x="820.61">Y</tspan><tspan x="827.93">=</tspan><tspan x="835.24">1</tspan><tspan x="849.88">5</tspan><tspan x="857.80" font-size="11.4">m</tspan></text>
<g transform="translate(694.5,84.5)"><text x="-5.992" y="1.460" font-size="20" clip-path="url(#pl)">.</text></g><text transform="scale(0.82,1)" y="85"><tspan x="820.61">Y</tspan><tspan x="827.93">=</tspan><tspan x="835.24">2</tspan><tspan x="849.88" font-family="DejaVu Sans Condensed" font-size="12.3">0</tspan><tspan x="857.80" font-size="11.4">m</tspan></text>
<text x="101.10" y="188" font-size="18">-</text><g transform="translate(118.5,186.5)"><text x="-5.992" y="1.460" font-size="20" clip-path="url(#pl)">.</text></g><text transform="scale(0.82,1)" y="187"><tspan x="132.80">1</tspan><tspan x="147.44">8</tspan></text>
<text x="164.10" y="188" font-size="18">-</text><g transform="translate(181.5,186.5)"><text x="-5.992" y="1.460" font-size="20" clip-path="url(#pl)">.</text></g><text transform="scale(0.82,1)" y="187"><tspan x="209.63">1</tspan><tspan x="224.27">6</tspan></text>
<text x="227.10" y="188" font-size="18">-</text><g transform="translate(244.5,186.5)"><text x="-5.992" y="1.460" font-size="20" clip-path="url(#pl)">.</text></g><text transform="scale(0.82,1)" y="187"><tspan x="286.46">1</tspan><tspan x="301.10">4</tspan></text>
<text x="290.10" y="188" font-size="18">-</text><g transform="translate(307.5,186.5)"><text x="-5.992" y="1.460" font-size="20" clip-path="url(#pl)">.</text></g><text transform="scale(0.82,1)" y="187"><tspan x="363.29">1</tspan><tspan x="377.93">2</tspan></text>
<text x="358.10" y="188" font-size="18">-</text><text transform="scale(0.82,1)" y="187"><tspan x="446.22">1</tspan></text>
<text x="415.10" y="188" font-size="18">-</text><g transform="translate(432.5,186.5)"><text x="-5.992" y="1.460" font-size="20" clip-path="url(#pl)">.</text></g><text transform="scale(0.82,1)" y="187"><tspan x="515.73" font-family="DejaVu Sans Condensed" font-size="12.3">0</tspan><tspan x="530.37">8</tspan></text>
<text x="478.10" y="188" font-size="18">-</text><g transform="translate(495.5,186.5)"><text x="-5.992" y="1.460" font-size="20" clip-path="url(#pl)">.</text></g><text transform="scale(0.82,1)" y="187"><tspan x="592.56" font-family="DejaVu Sans Condensed" font-size="12.3">0</tspan><tspan x="607.20">6</tspan></text>
<text x="541.10" y="188" font-size="18">-</text><g transform="translate(558.5,186.5)"><text x="-5.992" y="1.460" font-size="20" clip-path="url(#pl)">.</text></g><text transform="scale(0.82,1)" y="187"><tspan x="669.39" font-family="DejaVu Sans Condensed" font-size="12.3">0</tspan><tspan x="684.02">4</tspan></text>
<text x="603.10" y="188" font-size="18">-</text><g transform="translate(620.5,186.5)"><text x="-5.992" y="1.460" font-size="20" clip-path="url(#pl)">.</text></g><text transform="scale(0.82,1)" y="187"><tspan x="745.00" font-family="DejaVu Sans Condensed" font-size="12.3">0</tspan><tspan x="759.63">2</tspan></text>
<text transform="scale(0.82,1)" y="187"><tspan x="829.15" font-family="DejaVu Sans Condensed" font-size="12.3">0</tspan></text>
<text transform="scale(0.82,1)" y="61"><tspan x="113.29">5</tspan></text>
<text transform="scale(0.82,1)" y="88"><tspan x="113.29" font-family="DejaVu Sans Condensed" font-size="12.3">0</tspan></text>
<text x="85.10" y="117" font-size="18">-</text><text transform="scale(0.82,1)" y="116"><tspan x="113.29">5</tspan></text>
<text x="79.10" y="144" font-size="18">-</text><text transform="scale(0.82,1)" y="143"><tspan x="105.98">1</tspan><tspan x="113.29" font-family="DejaVu Sans Condensed" font-size="12.3">0</tspan></text>
<text x="79.10" y="172" font-size="18">-</text><text transform="scale(0.82,1)" y="171"><tspan x="105.98">1</tspan><tspan x="113.29">5</tspan></text>
<g transform="translate(406.5,38.5)"><text x="-5.992" y="1.460" font-size="20" clip-path="url(#pl)">.</text></g><text transform="scale(0.82,1)" y="39"><tspan x="484.02">1</tspan><tspan x="498.66">4</tspan><tspan x="505.98">3</tspan><tspan x="513.90" font-size="11.4">m</tspan></text>
<text transform="scale(0.82,1)" y="203"><tspan x="491.95" font-size="11.4">x</tspan><tspan x="498.66">/</tspan><tspan x="506.59" font-size="11.4">m</tspan></text>
<g transform="translate(694.5,248.5)"><text x="-5.992" y="1.460" font-size="20" clip-path="url(#pl)">.</text></g><text transform="scale(0.82,1)" y="249"><tspan x="820.61">Y</tspan><tspan x="827.93">=</tspan><tspan x="835.24">1</tspan><tspan x="849.88">5</tspan><tspan x="857.80" font-size="11.4">m</tspan></text>
<g transform="translate(694.5,264.5)"><text x="-5.992" y="1.460" font-size="20" clip-path="url(#pl)">.</text></g><text transform="scale(0.82,1)" y="265"><tspan x="820.61">Y</tspan><tspan x="827.93">=</tspan><tspan x="835.24">2</tspan><tspan x="849.88" font-family="DejaVu Sans Condensed" font-size="12.3">0</tspan><tspan x="857.80" font-size="11.4">m</tspan></text>
<text x="101.10" y="369" font-size="18">-</text><g transform="translate(118.5,367.5)"><text x="-5.992" y="1.460" font-size="20" clip-path="url(#pl)">.</text></g><text transform="scale(0.82,1)" y="368"><tspan x="132.80">1</tspan><tspan x="147.44">8</tspan></text>
<text x="164.10" y="369" font-size="18">-</text><g transform="translate(181.5,367.5)"><text x="-5.992" y="1.460" font-size="20" clip-path="url(#pl)">.</text></g><text transform="scale(0.82,1)" y="368"><tspan x="209.63">1</tspan><tspan x="224.27">6</tspan></text>
<text x="227.10" y="369" font-size="18">-</text><g transform="translate(244.5,367.5)"><text x="-5.992" y="1.460" font-size="20" clip-path="url(#pl)">.</text></g><text transform="scale(0.82,1)" y="368"><tspan x="286.46">1</tspan><tspan x="301.10">4</tspan></text>
<text x="290.10" y="369" font-size="18">-</text><g transform="translate(307.5,367.5)"><text x="-5.992" y="1.460" font-size="20" clip-path="url(#pl)">.</text></g><text transform="scale(0.82,1)" y="368"><tspan x="363.29">1</tspan><tspan x="377.93">2</tspan></text>
<text x="358.10" y="369" font-size="18">-</text><text transform="scale(0.82,1)" y="368"><tspan x="446.22">1</tspan></text>
<text x="415.10" y="369" font-size="18">-</text><g transform="translate(432.5,367.5)"><text x="-5.992" y="1.460" font-size="20" clip-path="url(#pl)">.</text></g><text transform="scale(0.82,1)" y="368"><tspan x="515.73" font-family="DejaVu Sans Condensed" font-size="12.3">0</tspan><tspan x="530.37">8</tspan></text>
<text x="478.10" y="369" font-size="18">-</text><g transform="translate(495.5,367.5)"><text x="-5.992" y="1.460" font-size="20" clip-path="url(#pl)">.</text></g><text transform="scale(0.82,1)" y="368"><tspan x="592.56" font-family="DejaVu Sans Condensed" font-size="12.3">0</tspan><tspan x="607.20">6</tspan></text>
<text x="541.10" y="369" font-size="18">-</text><g transform="translate(558.5,367.5)"><text x="-5.992" y="1.460" font-size="20" clip-path="url(#pl)">.</text></g><text transform="scale(0.82,1)" y="368"><tspan x="669.39" font-family="DejaVu Sans Condensed" font-size="12.3">0</tspan><tspan x="684.02">4</tspan></text>
<text x="603.10" y="369" font-size="18">-</text><g transform="translate(620.5,367.5)"><text x="-5.992" y="1.460" font-size="20" clip-path="url(#pl)">.</text></g><text transform="scale(0.82,1)" y="368"><tspan x="745.00" font-family="DejaVu Sans Condensed" font-size="12.3">0</tspan><tspan x="759.63">2</tspan></text>
<text transform="scale(0.82,1)" y="368"><tspan x="829.15" font-family="DejaVu Sans Condensed" font-size="12.3">0</tspan></text>
<text transform="scale(0.82,1)" y="241"><tspan x="113.29">5</tspan></text>
<text transform="scale(0.82,1)" y="268"><tspan x="113.29" font-family="DejaVu Sans Condensed" font-size="12.3">0</tspan></text>
<text x="85.10" y="297" font-size="18">-</text><text transform="scale(0.82,1)" y="296"><tspan x="113.29">5</tspan></text>
<text x="79.10" y="324" font-size="18">-</text><text transform="scale(0.82,1)" y="323"><tspan x="105.98">1</tspan><tspan x="113.29" font-family="DejaVu Sans Condensed" font-size="12.3">0</tspan></text>
<text x="79.10" y="352" font-size="18">-</text><text transform="scale(0.82,1)" y="351"><tspan x="105.98">1</tspan><tspan x="113.29">5</tspan></text>
<g transform="translate(406.5,218.5)"><text x="-5.992" y="1.460" font-size="20" clip-path="url(#pl)">.</text></g><text transform="scale(0.82,1)" y="219"><tspan x="484.02" font-family="DejaVu Sans Condensed" font-size="12.3">0</tspan><tspan x="498.66">4</tspan><tspan x="505.98">1</tspan><tspan x="513.90" font-size="11.4">m</tspan></text>
<text transform="scale(0.82,1)" y="384"><tspan x="491.95" font-size="11.4">x</tspan><tspan x="498.66">/</tspan><tspan x="506.59" font-size="11.4">m</tspan></text>
<g transform="translate(694.5,428.5)"><text x="-5.992" y="1.460" font-size="20" clip-path="url(#pl)">.</text></g><text transform="scale(0.82,1)" y="429"><tspan x="820.61">Y</tspan><tspan x="827.93">=</tspan><tspan x="835.24">1</tspan><tspan x="849.88">5</tspan><tspan x="857.80" font-size="11.4">m</tspan></text>
<g transform="translate(694.5,444.5)"><text x="-5.992" y="1.460" font-size="20" clip-path="url(#pl)">.</text></g><text transform="scale(0.82,1)" y="445"><tspan x="820.61">Y</tspan><tspan x="827.93">=</tspan><tspan x="835.24">2</tspan><tspan x="849.88" font-family="DejaVu Sans Condensed" font-size="12.3">0</tspan><tspan x="857.80" font-size="11.4">m</tspan></text>
<text x="101.10" y="548" font-size="18">-</text><g transform="translate(118.5,546.5)"><text x="-5.992" y="1.460" font-size="20" clip-path="url(#pl)">.</text></g><text transform="scale(0.82,1)" y="547"><tspan x="132.80">1</tspan><tspan x="147.44">8</tspan></text>
<text x="164.10" y="548" font-size="18">-</text><g transform="translate(181.5,546.5)"><text x="-5.992" y="1.460" font-size="20" clip-path="url(#pl)">.</text></g><text transform="scale(0.82,1)" y="547"><tspan x="209.63">1</tspan><tspan x="224.27">6</tspan></text>
<text x="227.10" y="548" font-size="18">-</text><g transform="translate(244.5,546.5)"><text x="-5.992" y="1.460" font-size="20" clip-path="url(#pl)">.</text></g><text transform="scale(0.82,1)" y="547"><tspan x="286.46">1</tspan><tspan x="301.10">4</tspan></text>
<text x="290.10" y="548" font-size="18">-</text><g transform="translate(307.5,546.5)"><text x="-5.992" y="1.460" font-size="20" clip-path="url(#pl)">.</text></g><text transform="scale(0.82,1)" y="547"><tspan x="363.29">1</tspan><tspan x="377.93">2</tspan></text>
<text x="358.10" y="548" font-size="18">-</text><text transform="scale(0.82,1)" y="547"><tspan x="446.22">1</tspan></text>
<text x="415.10" y="548" font-size="18">-</text><g transform="translate(432.5,546.5)"><text x="-5.992" y="1.460" font-size="20" clip-path="url(#pl)">.</text></g><text transform="scale(0.82,1)" y="547"><tspan x="515.73" font-family="DejaVu Sans Condensed" font-size="12.3">0</tspan><tspan x="530.37">8</tspan></text>
<text x="478.10" y="548" font-size="18">-</text><g transform="translate(495.5,546.5)"><text x="-5.992" y="1.460" font-size="20" clip-path="url(#pl)">.</text></g><text transform="scale(0.82,1)" y="547"><tspan x="592.56" font-family="DejaVu Sans Condensed" font-size="12.3">0</tspan><tspan x="607.20">6</tspan></text>
<text x="541.10" y="548" font-size="18">-</text><g transform="translate(558.5,546.5)"><text x="-5.992" y="1.460" font-size="20" clip-path="url(#pl)">.</text></g><text transform="scale(0.82,1)" y="547"><tspan x="669.39" font-family="DejaVu Sans Condensed" font-size="12.3">0</tspan><tspan x="684.02">4</tspan></text>
<text x="603.10" y="548" font-size="18">-</text><g transform="translate(620.5,546.5)"><text x="-5.992" y="1.460" font-size="20" clip-path="url(#pl)">.</text></g><text transform="scale(0.82,1)" y="547"><tspan x="745.00" font-family="DejaVu Sans Condensed" font-size="12.3">0</tspan><tspan x="759.63">2</tspan></text>
<text transform="scale(0.82,1)" y="547"><tspan x="829.15" font-family="DejaVu Sans Condensed" font-size="12.3">0</tspan></text>
<text transform="scale(0.82,1)" y="420"><tspan x="113.29">5</tspan></text>
<text transform="scale(0.82,1)" y="448"><tspan x="113.29" font-family="DejaVu Sans Condensed" font-size="12.3">0</tspan></text>
<text x="85.10" y="476" font-size="18">-</text><text transform="scale(0.82,1)" y="475"><tspan x="113.29">5</tspan></text>
<text x="79.10" y="504" font-size="18">-</text><text transform="scale(0.82,1)" y="503"><tspan x="105.98">1</tspan><tspan x="113.29" font-family="DejaVu Sans Condensed" font-size="12.3">0</tspan></text>
<text x="79.10" y="531" font-size="18">-</text><text transform="scale(0.82,1)" y="530"><tspan x="105.98">1</tspan><tspan x="113.29">5</tspan></text>
<g transform="translate(406.5,398.5)"><text x="-5.992" y="1.460" font-size="20" clip-path="url(#pl)">.</text></g><text transform="scale(0.82,1)" y="399"><tspan x="484.02" font-family="DejaVu Sans Condensed" font-size="12.3">0</tspan><tspan x="498.66">2</tspan><tspan x="505.98" font-family="DejaVu Sans Condensed" font-size="12.3">0</tspan><tspan x="513.90" font-size="11.4">m</tspan></text>
<text transform="scale(0.82,1)" y="563"><tspan x="491.95" font-size="11.4">x</tspan><tspan x="498.66">/</tspan><tspan x="506.59" font-size="11.4">m</tspan></text>
</g>
<g filter="url(#bw2)" font-family="'Liberation Mono', 'DejaVu Sans Mono', monospace" font-size="13.5" fill="#000">
<g transform="translate(68,217) rotate(-90)"><text transform="scale(0.82,1)" y="0"><tspan x="-1.34" font-size="11.4">p</tspan><tspan x="5.98" font-size="11.4">h</tspan><tspan x="13.29" font-size="11.4">i</tspan></text><text transform="scale(0.82,1)" y="6"><tspan x="20.61" font-size="11.4">a</tspan><tspan x="27.93" font-size="11.4">u</tspan><tspan x="35.24" font-size="11.4">d</tspan><tspan x="42.56" font-size="11.4">i</tspan><tspan x="49.88" font-size="11.4">t</tspan><tspan x="57.20" font-size="11.4">o</tspan><tspan x="64.51" font-size="11.4">r</tspan><tspan x="71.83" font-size="11.4">y</tspan><tspan x="86.46" font-size="11.4">e</tspan><tspan x="93.78" font-size="11.4">v</tspan><tspan x="101.10" font-size="11.4">e</tspan><tspan x="108.41" font-size="11.4">n</tspan><tspan x="115.73" font-size="11.4">t</tspan></text><text x="99.10" y="1" font-size="18">-</text><text transform="scale(0.82,1)" y="0"><tspan x="130.37" font-size="11.4">p</tspan><tspan x="137.68" font-size="11.4">h</tspan><tspan x="145.00" font-size="11.4">i</tspan></text><text transform="scale(0.82,1)" y="6"><tspan x="152.32" font-size="11.4">s</tspan><tspan x="159.63" font-size="11.4">o</tspan><tspan x="166.95" font-size="11.4">u</tspan><tspan x="174.27" font-size="11.4">n</tspan><tspan x="181.59" font-size="11.4">d</tspan><tspan x="196.22" font-size="11.4">e</tspan><tspan x="203.54" font-size="11.4">v</tspan><tspan x="210.85" font-size="11.4">e</tspan><tspan x="218.17" font-size="11.4">n</tspan><tspan x="225.49" font-size="11.4">t</tspan></text><text transform="scale(0.82,1)" y="0"><tspan x="232.80">/</tspan><tspan x="240.12" font-size="11.4">d</tspan><tspan x="247.44" font-size="11.4">e</tspan><tspan x="254.76" font-size="11.4">g</tspan></text></g>
<g transform="translate(68,397) rotate(-90)"><text transform="scale(0.82,1)" y="0"><tspan x="-1.34" font-size="11.4">p</tspan><tspan x="5.98" font-size="11.4">h</tspan><tspan x="13.29" font-size="11.4">i</tspan></text><text transform="scale(0.82,1)" y="6"><tspan x="20.61" font-size="11.4">a</tspan><tspan x="27.93" font-size="11.4">u</tspan><tspan x="35.24" font-size="11.4">d</tspan><tspan x="42.56" font-size="11.4">i</tspan><tspan x="49.88" font-size="11.4">t</tspan><tspan x="57.20" font-size="11.4">o</tspan><tspan x="64.51" font-size="11.4">r</tspan><tspan x="71.83" font-size="11.4">y</tspan><tspan x="86.46" font-size="11.4">e</tspan><tspan x="93.78" font-size="11.4">v</tspan><tspan x="101.10" font-size="11.4">e</tspan><tspan x="108.41" font-size="11.4">n</tspan><tspan x="115.73" font-size="11.4">t</tspan></text><text x="99.10" y="1" font-size="18">-</text><text transform="scale(0.82,1)" y="0"><tspan x="130.37" font-size="11.4">p</tspan><tspan x="137.68" font-size="11.4">h</tspan><tspan x="145.00" font-size="11.4">i</tspan></text><text transform="scale(0.82,1)" y="6"><tspan x="152.32" font-size="11.4">s</tspan><tspan x="159.63" font-size="11.4">o</tspan><tspan x="166.95" font-size="11.4">u</tspan><tspan x="174.27" font-size="11.4">n</tspan><tspan x="181.59" font-size="11.4">d</tspan><tspan x="196.22" font-size="11.4">e</tspan><tspan x="203.54" font-size="11.4">v</tspan><tspan x="210.85" font-size="11.4">e</tspan><tspan x="218.17" font-size="11.4">n</tspan><tspan x="225.49" font-size="11.4">t</tspan></text><text transform="scale(0.82,1)" y="0"><tspan x="232.80">/</tspan><tspan x="240.12" font-size="11.4">d</tspan><tspan x="247.44" font-size="11.4">e</tspan><tspan x="254.76" font-size="11.4">g</tspan></text></g>
<g transform="translate(68,577) rotate(-90)"><text transform="scale(0.82,1)" y="0"><tspan x="-1.34" font-size="11.4">p</tspan><tspan x="5.98" font-size="11.4">h</tspan><tspan x="13.29" font-size="11.4">i</tspan></text><text transform="scale(0.82,1)" y="6"><tspan x="20.61" font-size="11.4">a</tspan><tspan x="27.93" font-size="11.4">u</tspan><tspan x="35.24" font-size="11.4">d</tspan><tspan x="42.56" font-size="11.4">i</tspan><tspan x="49.88" font-size="11.4">t</tspan><tspan x="57.20" font-size="11.4">o</tspan><tspan x="64.51" font-size="11.4">r</tspan><tspan x="71.83" font-size="11.4">y</tspan><tspan x="86.46" font-size="11.4">e</tspan><tspan x="93.78" font-size="11.4">v</tspan><tspan x="101.10" font-size="11.4">e</tspan><tspan x="108.41" font-size="11.4">n</tspan><tspan x="115.73" font-size="11.4">t</tspan></text><text x="99.10" y="1" font-size="18">-</text><text transform="scale(0.82,1)" y="0"><tspan x="130.37" font-size="11.4">p</tspan><tspan x="137.68" font-size="11.4">h</tspan><tspan x="145.00" font-size="11.4">i</tspan></text><text transform="scale(0.82,1)" y="6"><tspan x="152.32" font-size="11.4">s</tspan><tspan x="159.63" font-size="11.4">o</tspan><tspan x="166.95" font-size="11.4">u</tspan><tspan x="174.27" font-size="11.4">n</tspan><tspan x="181.59" font-size="11.4">d</tspan><tspan x="196.22" font-size="11.4">e</tspan><tspan x="203.54" font-size="11.4">v</tspan><tspan x="210.85" font-size="11.4">e</tspan><tspan x="218.17" font-size="11.4">n</tspan><tspan x="225.49" font-size="11.4">t</tspan></text><text transform="scale(0.82,1)" y="0"><tspan x="232.80">/</tspan><tspan x="240.12" font-size="11.4">d</tspan><tspan x="247.44" font-size="11.4">e</tspan><tspan x="254.76" font-size="11.4">g</tspan></text></g>
</g></svg>
</body></html>
